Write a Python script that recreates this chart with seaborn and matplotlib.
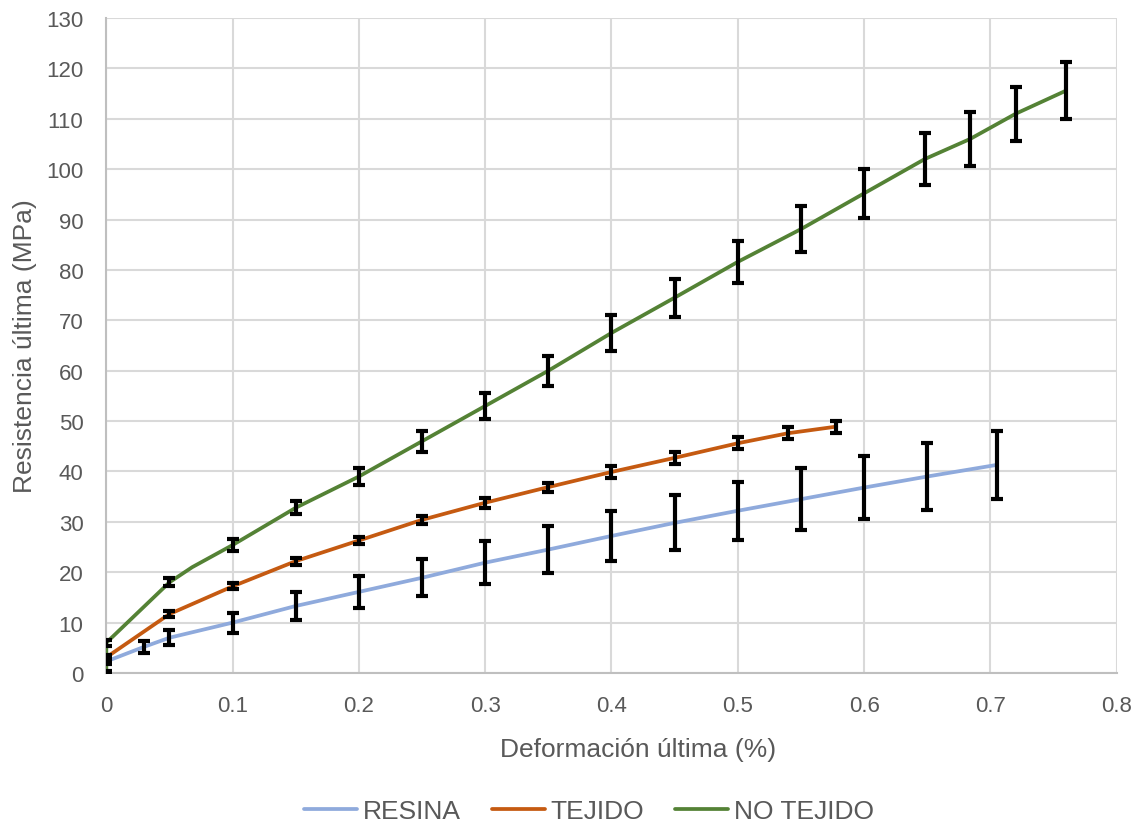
import numpy as np
import pandas as pd
import matplotlib
matplotlib.use("Agg")
import matplotlib.pyplot as plt
import seaborn as sns

# ---- data ----
resina_x = [0, 0.03, 0.05, 0.1, 0.15, 0.2, 0.25, 0.3, 0.35, 0.4, 0.45, 0.5, 0.55, 0.6, 0.65, 0.705]
resina_y = [2.3, 5.2, 7.0, 10.0, 13.3, 16.1, 18.9, 21.9, 24.5, 27.2, 29.8, 32.2, 34.5, 36.8, 39.0, 41.3]
resina_err = [0.5, 1.2, 1.5, 2.0, 2.7, 3.2, 3.7, 4.2, 4.65, 5.05, 5.45, 5.8, 6.1, 6.3, 6.6, 6.8]

tejido_x = [0, 0.05, 0.1, 0.15, 0.2, 0.25, 0.3, 0.35, 0.4, 0.45, 0.5, 0.54, 0.578]
tejido_y = [3.1, 11.7, 17.2, 22.2, 26.3, 30.4, 33.8, 36.9, 39.9, 42.7, 45.6, 47.6, 48.9]
tejido_err = [0.5, 0.6, 0.6, 0.7, 0.7, 0.8, 1.0, 0.9, 1.1, 1.2, 1.2, 1.2, 1.2]

notejido_x = [0, 0, 0.05, 0.068, 0.1, 0.15, 0.2, 0.25, 0.3, 0.35, 0.4, 0.45, 0.5, 0.55, 0.6, 0.648, 0.684, 0.72, 0.76]
notejido_y = [0, 6.0, 18.0, 21.0, 25.4, 32.8, 39.0, 46.0, 53.0, 60.0, 67.5, 74.5, 81.6, 88.1, 95.2, 102.0, 106.0, 111.0, 115.6]
notejido_err = [0.3, 0.6, 0.8, 0.0, 1.1, 1.3, 1.7, 2.1, 2.5, 3.0, 3.5, 3.8, 4.2, 4.5, 4.9, 5.1, 5.3, 5.4, 5.6]

series_names = ["RESINA", "TEJIDO", "NO TEJIDO"]
series_colors = ["#8faadc", "#c55a11", "#548235"]

x_ticks = [0, 0.1, 0.2, 0.3, 0.4, 0.5, 0.6, 0.7, 0.8]
x_tick_labels = ["0", "0.1", "0.2", "0.3", "0.4", "0.5", "0.6", "0.7", "0.8"]
y_ticks = list(range(0, 131, 10))

x_label = "Deformación última (%)"
y_label = "Resistencia última (MPa)"

# ---- build frame ----
frames = []
for name, xs, ys, es in [
    ("RESINA", resina_x, resina_y, resina_err),
    ("TEJIDO", tejido_x, tejido_y, tejido_err),
    ("NO TEJIDO", notejido_x, notejido_y, notejido_err),
]:
    frames.append(pd.DataFrame({"x": xs, "y": ys, "err": es, "serie": name}))
df = pd.concat(frames, ignore_index=True)

sns.set_theme(style="white")
plt.rcParams["font.family"] = ["Liberation Sans", "DejaVu Sans"]

fig = plt.figure(figsize=(11.42, 8.28), dpi=100)
ax = fig.add_axes([0.0931, 0.186, 0.8847, 0.791])

grey_text = "#595959"
grid_c = "#d9d9d9"

ax.set_xlim(0, 0.8)
ax.set_ylim(0, 130)
ax.set_xticks(x_ticks)
ax.set_xticklabels(x_tick_labels)
ax.set_yticks(y_ticks)
ax.grid(True, color=grid_c, linewidth=1.5, zorder=0)
ax.set_axisbelow(True)
for s in ["top", "right"]:
    ax.spines[s].set_visible(False)
for s in ["left", "bottom"]:
    ax.spines[s].set_color("#bfbfbf")
    ax.spines[s].set_linewidth(1.5)
ax.tick_params(axis="y", length=0, labelsize=16, colors=grey_text, pad=16.5)
ax.tick_params(axis="x", length=0, labelsize=16, colors=grey_text, pad=16)

palette = dict(zip(series_names, series_colors))
for name in series_names:
    sub = df[df["serie"] == name]
    sns.lineplot(data=sub, x="x", y="y", sort=False, estimator=None, color=palette[name],
                 linewidth=2.7, ax=ax, label=name, zorder=3)

for name in series_names:
    sub = df[(df["serie"] == name) & (df["err"] > 0)]
    ax.errorbar(sub["x"], sub["y"], yerr=sub["err"], fmt="none", ecolor="black",
                elinewidth=3.0, capsize=4.5, capthick=3.0, zorder=4)

ax.set_xlabel(x_label, fontsize=19, color=grey_text)
ax.set_ylabel(y_label, fontsize=19, color=grey_text)
ax.xaxis.label.set_va("center")
ax.yaxis.label.set_va("center")
ax.xaxis.set_label_coords(0.526, -0.116)
ax.yaxis.set_label_coords(-0.0805, 0.5)

leg = ax.legend(loc="center", bbox_to_anchor=(0.478, -0.2107), ncol=3, frameon=False,
                fontsize=19, handlelength=2.0, handletextpad=0.23, columnspacing=1.17)
for t in leg.get_texts():
    t.set_color(grey_text)

fig.savefig("out.png", dpi=100)
